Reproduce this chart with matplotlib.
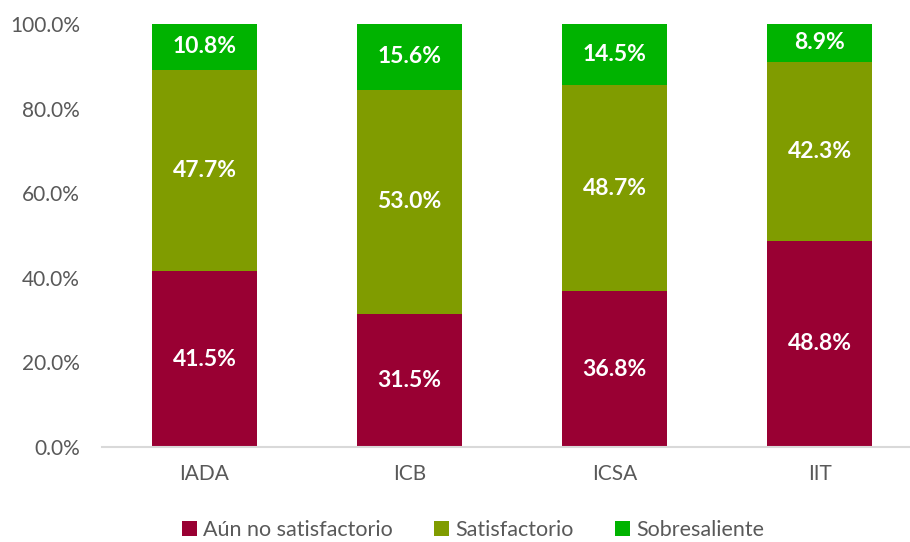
import numpy as np
import matplotlib.pyplot as plt
from matplotlib.ticker import FuncFormatter

plt.rcParams['font.family'] = ['Lato', 'DejaVu Sans']

categories = ['IADA', 'ICB', 'ICSA', 'IIT']
aun_no = [41.5, 31.5, 36.8, 48.8]
satisfactorio = [47.7, 53.0, 48.7, 42.3]
sobresaliente = [10.8, 15.6, 14.5, 8.9]

series = [
    ('Aún no satisfactorio', aun_no, '#990033'),
    ('Satisfactorio', satisfactorio, '#809C00'),
    ('Sobresaliente', sobresaliente, '#00B300'),
]

fig = plt.figure(figsize=(9.1, 5.42), dpi=100)
ax = fig.add_axes([102 / 910, 1 - 447 / 542, 820 / 910, 423 / 542])

x = np.arange(len(categories))
bottom = np.zeros(len(categories))
for name, vals, color in series:
    vals = np.array(vals)
    ax.bar(x, vals, 0.51, bottom=bottom, color=color, label=name, zorder=2)
    for xi, b, v in zip(x, bottom, vals):
        ax.text(xi, b + v / 2, f'{v:.1f}%', ha='center', va='center',
                color='white', fontsize=16.5, fontweight='bold', zorder=3)
    bottom += vals

ax.set_xlim(-0.5, 3.5)
ax.set_ylim(0, 100)
ax.set_yticks(np.arange(0, 101, 20))
ax.yaxis.set_major_formatter(FuncFormatter(lambda v, p: f'{v:.1f}%'))
ax.set_xticks(x)
ax.set_xticklabels(categories)
ax.tick_params(axis='both', length=0, labelsize=15, labelcolor='#595959')
ax.tick_params(axis='y', pad=16)
ax.tick_params(axis='x', pad=12)

for s in ['top', 'right', 'left']:
    ax.spines[s].set_visible(False)
ax.spines['bottom'].set_color('#D9D9D9')
ax.spines['bottom'].set_linewidth(1.5)

fig.legend(loc='center', bbox_to_anchor=(0.52, 1 - 530 / 542), ncol=3,
           frameon=False, fontsize=15.5, handlelength=0.7, handleheight=0.7,
           handletextpad=0.3, columnspacing=1.9, labelcolor='#595959')

fig.savefig('out.png', dpi=100)
